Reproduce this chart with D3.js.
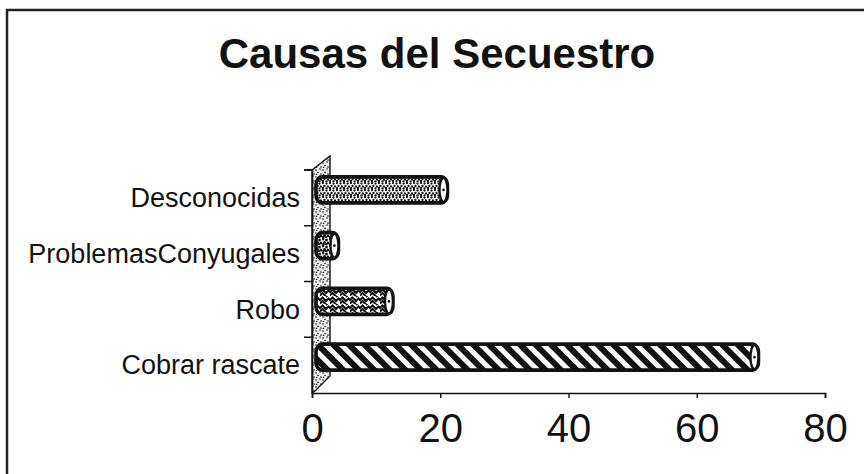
<!DOCTYPE html>
<html><head><meta charset="utf-8">
<script src="https://cdn.jsdelivr.net/npm/d3@7"></script>
<style>
html,body{margin:0;padding:0;background:#fff;}
svg{display:block;font-family:"Liberation Sans",Arial,sans-serif;}
</style></head>
<body>
<svg id="chart" width="864" height="474"></svg>
<script>
const title = "Causas del Secuestro";
const categories = ["Cobrar rascate", "Robo", "ProblemasConyugales", "Desconocidas"];
const values = [69, 12, 3.5, 20.5];
const patterns = ["stripes", "weave", "mottle", "stipple"];
const xTicks = [0, 20, 40, 60, 80];

const svg = d3.select("#chart");
const defs = svg.append("defs");

function dotPattern(id, size, dots, r, bg) {
  const p = defs.append("pattern").attr("id", id).attr("patternUnits", "userSpaceOnUse")
    .attr("width", size).attr("height", size);
  p.append("rect").attr("width", size).attr("height", size).attr("fill", bg);
  dots.forEach(d => p.append("circle").attr("cx", d[0]).attr("cy", d[1]).attr("r", r).attr("fill", "#111"));
}
dotPattern("stipple", 7, [[1,1],[4.5,1.5],[2.5,4],[6,4.5],[1,6],[4.5,6.5]], 1.15, "#fff");
dotPattern("mottle", 7, [[1,1],[4.5,2],[2.5,4.5],[6,5],[1,6.5],[4,6.5]], 1.4, "#fff");
dotPattern("wallp", 7, [[1,2],[5,1],[3,4.5],[6,6],[1.5,6.5]], 0.8, "#eee");

const st = defs.append("pattern").attr("id", "stripes").attr("patternUnits", "userSpaceOnUse")
  .attr("width", 11).attr("height", 11).attr("patternTransform", "rotate(-45)");
st.append("rect").attr("width", 11).attr("height", 11).attr("fill", "#fff");
st.append("rect").attr("width", 6).attr("height", 11).attr("fill", "#111");

const wv = defs.append("pattern").attr("id", "weave").attr("patternUnits", "userSpaceOnUse")
  .attr("width", 10).attr("height", 8);
wv.append("rect").attr("width", 10).attr("height", 8).attr("fill", "#fff");
wv.append("path").attr("d", "M-1,5 L2.5,1.5 L6,5 L8.5,2.5 L11,5 M-1,8.5 L2.5,5 L6,8.5 M6,1 L8.5,-1.5")
  .attr("stroke", "#111").attr("stroke-width", 2).attr("fill", "none");

// frame
svg.append("path").attr("d", "M7,474 L7,10 L864,10").attr("fill", "none")
  .attr("stroke", "#222").attr("stroke-width", 2.5);

// title
svg.append("text").attr("x", 437).attr("y", 68).attr("text-anchor", "middle")
  .attr("font-size", 42).attr("font-weight", "bold").attr("fill", "#111").text(title);

// scales
const x = d3.scaleLinear().domain([0, 80]).range([312, 825]);
const y = d3.scaleBand().domain(categories).range([393, 170]);
const depthX = 4, depthY = -8;

// wall
const x0 = x(0), yTop = y.range()[1], yBot = y.range()[0];
svg.append("path")
  .attr("d", `M${x0},${yTop} L${x0+18},${yTop-14} L${x0+18},${yBot-17} L${x0+3},${yBot-2} L${x0},${yBot} Z`)
  .attr("fill", "url(#wallp)").attr("stroke", "#111").attr("stroke-width", 1.4);

// y axis
const yAxis = d3.axisLeft(y).tickSize(0).tickPadding(12);
const yg = svg.append("g").attr("transform", `translate(${x0},0)`).call(yAxis);
yg.select(".domain").attr("stroke", "#111").attr("stroke-width", 1.6);
yg.selectAll("text").attr("font-size", 27).attr("fill", "#111")
  .attr("font-family", "'Liberation Sans',Arial,sans-serif").attr("dy", "0.34em");
const bounds = categories.map(c => y(c)).concat([y.range()[1]]);
svg.append("g").selectAll("line").data(bounds).join("line")
  .attr("x1", x0 - 8).attr("x2", x0).attr("y1", d => d).attr("y2", d => d)
  .attr("stroke", "#111").attr("stroke-width", 1.5);

// x axis
const xAxis = d3.axisBottom(x).tickValues(xTicks).tickSize(5).tickPadding(16).tickFormat(d3.format("d"));
const xg = svg.append("g").attr("transform", `translate(0,${yBot})`).call(xAxis);
xg.select(".domain").attr("stroke", "#111").attr("stroke-width", 1.6);
xg.selectAll(".tick line").attr("stroke", "#111").attr("stroke-width", 1.4);
xg.selectAll("text").attr("font-size", 40).attr("fill", "#111")
  .attr("font-family", "'Liberation Sans',Arial,sans-serif");

// bars
const bh = 26;
const bars = svg.append("g").selectAll("g").data(categories.map((c, i) => ({c, v: values[i], p: patterns[i]}))).join("g");
bars.append("rect")
  .attr("x", d => x(0) + depthX)
  .attr("y", d => y(d.c) + y.bandwidth() / 2 - bh / 2 + depthY)
  .attr("width", d => x(d.v) - x(0))
  .attr("height", bh)
  .attr("rx", 6).attr("ry", 8)
  .attr("fill", d => `url(#${d.p})`)
  .attr("stroke", "#111").attr("stroke-width", 3.6);
bars.append("ellipse")
  .attr("cx", d => x(d.v) + depthX - 4)
  .attr("cy", d => y(d.c) + y.bandwidth() / 2 + depthY)
  .attr("rx", 4).attr("ry", bh / 2 - 1)
  .attr("fill", "#fff").attr("stroke", "#111").attr("stroke-width", 2.4);
bars.append("circle")
  .attr("cx", d => x(d.v) + depthX - 4)
  .attr("cy", d => y(d.c) + y.bandwidth() / 2 + depthY)
  .attr("r", 1.3).attr("fill", "#111");
</script>
</body></html>
